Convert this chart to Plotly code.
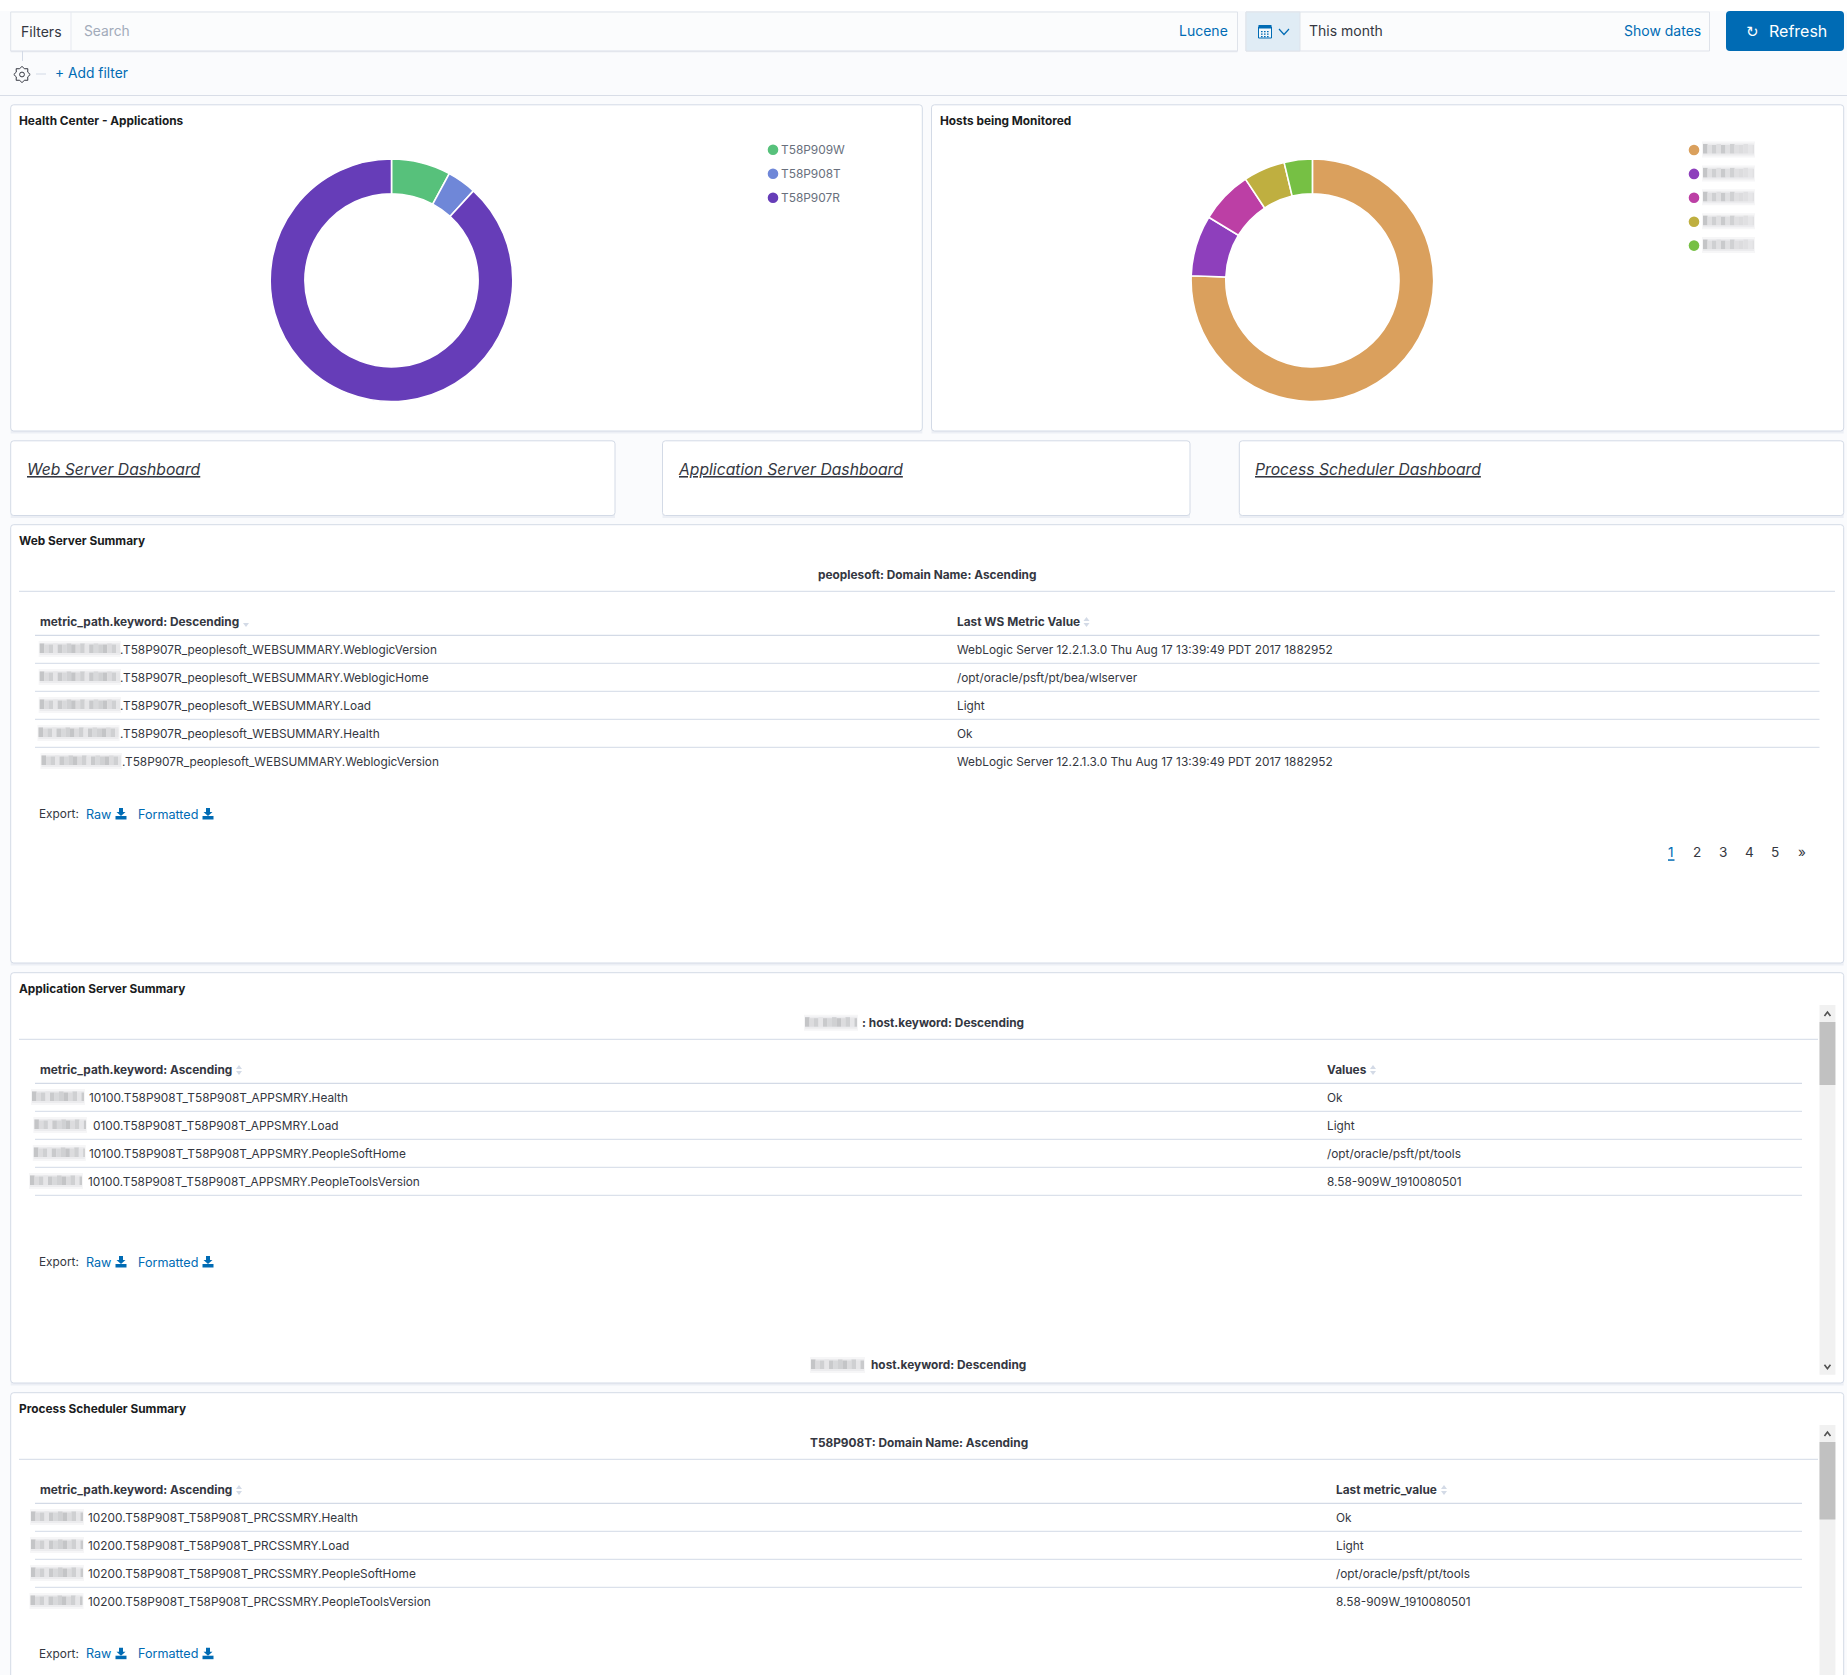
import math
import plotly.graph_objects as go

W, H = 1847, 1675

# donut data
app_labels = ["T58P909W", "T58P908T", "T58P907R"]
app_values = [7.9, 3.9, 88.2]
app_colors = ["#57c17b", "#6f87d8", "#663db8"]

host_labels = ["host a", "host b", "host c", "host d", "host e"]  # names are blurred in the picture
host_values = [75.6, 8.1, 7.0, 5.55, 3.75]
host_colors = ["#daa05d", "#8e3fbc", "#bc3fa5", "#bfaf40", "#76c044"]

# tables
web_paths = [".T58P907R_peoplesoft_WEBSUMMARY.WeblogicVersion",
             ".T58P907R_peoplesoft_WEBSUMMARY.WeblogicHome",
             ".T58P907R_peoplesoft_WEBSUMMARY.Load",
             ".T58P907R_peoplesoft_WEBSUMMARY.Health",
             ".T58P907R_peoplesoft_WEBSUMMARY.WeblogicVersion"]
web_values = ["WebLogic Server 12.2.1.3.0 Thu Aug 17 13:39:49 PDT 2017 1882952",
              "/opt/oracle/psft/pt/bea/wlserver",
              "Light",
              "Ok",
              "WebLogic Server 12.2.1.3.0 Thu Aug 17 13:39:49 PDT 2017 1882952"]
app_paths = ["10100.T58P908T_T58P908T_APPSMRY.Health",
             "0100.T58P908T_T58P908T_APPSMRY.Load",
             "10100.T58P908T_T58P908T_APPSMRY.PeopleSoftHome",
             "10100.T58P908T_T58P908T_APPSMRY.PeopleToolsVersion"]
app_vals = ["Ok", "Light", "/opt/oracle/psft/pt/tools", "8.58-909W_1910080501"]
prc_paths = ["10200.T58P908T_T58P908T_PRCSSMRY.Health",
             "10200.T58P908T_T58P908T_PRCSSMRY.Load",
             "10200.T58P908T_T58P908T_PRCSSMRY.PeopleSoftHome",
             "10200.T58P908T_T58P908T_PRCSSMRY.PeopleToolsVersion"]
prc_vals = ["Ok", "Light", "/opt/oracle/psft/pt/tools", "8.58-909W_1910080501"]
pages = ["1", "2", "3", "4", "5", "»"]

FONT = "Inter"
DARK = "#343741"
BLACK = "#1a1c21"
BLUE = "#006bb4"
GREY = "#69707d"
LINE = "#d3dae6"
BODY = 11.85

shapes = []
notes = []


def text(x, y, s, size=None, color=DARK, anchor="left", family=FONT):
    # body text sits a touch higher than its box centre
    dy = 0
    if size is None:
        size, dy = BODY, -0.2
    notes.append(dict(x=x, y=y + dy, xref="x", yref="y", text=s, showarrow=False, xanchor=anchor,
                      yanchor="middle", borderpad=0, borderwidth=0,
                      font=dict(family=family, size=size, color=color)))


def rect(x0, y0, x1, y1, fill=None, line=None, lw=1, layer="below"):
    shapes.append(dict(type="rect", xref="x", yref="y", x0=x0, y0=y0, x1=x1, y1=y1, layer=layer,
                       fillcolor=fill or "rgba(0,0,0,0)",
                       line=dict(color=line or "rgba(0,0,0,0)", width=lw if line else 0)))


def hline(x0, x1, y, color=LINE, lw=1):
    shapes.append(dict(type="line", xref="x", yref="y", x0=x0, x1=x1, y0=y, y1=y, layer="below",
                       line=dict(color=color, width=lw)))


def path(d, fill=None, line=None, lw=1, layer="below"):
    shapes.append(dict(type="path", xref="x", yref="y", path=d, layer=layer,
                       fillcolor=fill or "rgba(0,0,0,0)",
                       line=dict(color=line or "rgba(0,0,0,0)", width=lw if line else 0)))


def dot(x, y, r, color, line=None):
    shapes.append(dict(type="circle", xref="x", yref="y", x0=x - r, x1=x + r, y0=y - r, y1=y + r,
                       layer="below", fillcolor=color, line=dict(color=line or color, width=1 if line else 0)))


def card(x0, y0, x1, y1, r=3):
    d = (f"M{x0+r},{y0} L{x1-r},{y0} Q{x1},{y0} {x1},{y0+r} L{x1},{y1-r} Q{x1},{y1} {x1-r},{y1} "
         f"L{x0+r},{y1} Q{x0},{y1} {x0},{y1-r} L{x0},{y0+r} Q{x0},{y0} {x0+r},{y0} Z")
    rect(x0, y1 - 2, x1, y1 + 2.5, fill="#eceff5")
    path(d, fill="#ffffff", line=LINE)


SMEAR = ["#c4c5c7", "#dcdcde", "#cfd0d2", "#e6e6e8", "#c9cacc", "#d8d9db", "#d0d1d3"]


def blur(x0, x1, y, lighten=False):
    # hostnames are smeared out in the picture, so these stay grey blocks
    rect(x0 - 1, y - 8, x1 + 1, y + 8, fill="#f6f6f7")
    rect(x0, y - 6, x1, y + 6, fill="#ececee")
    k, x = 0, x0
    while x < x1:
        nx = min(x + 4.5, x1)
        top = 4.5 if k % 3 else 5.5
        rect(x, y - top, nx, y + 4, fill="#e0e0e2" if lighten and k % 2 else SMEAR[k % len(SMEAR)])
        x, k = nx, k + 1


def download(x, y):
    path(f"M{x+3.5},{y-6} L{x+7.5},{y-6} L{x+7.5},{y-2} L{x+10},{y-2} L{x+5.5},{y+2} L{x+1},{y-2} L{x+3.5},{y-2} Z", fill=BLUE)
    rect(x, y + 2, x + 11, y + 5.5, fill=BLUE)


def export(y):
    text(39, y, "Export:", size=11.85, color=DARK)
    text(86.3, y, "Raw", size=12.6, color=BLUE)
    download(115.5, y)
    text(137.6, y, "Formatted", size=12.6, color=BLUE)
    download(202.5, y)


def caret(x, y, up=True):
    if up:
        path(f"M{x},{y-1} L{x+3},{y-5} L{x+6},{y-1} Z", fill=LINE)
    path(f"M{x},{y+1} L{x+3},{y+5} L{x+6},{y+1} Z", fill=LINE)


def scrollbar(x0, x1, y0, y1, t0, t1, bottom_arrow=True):
    rect(x0, y0, x1, y1, fill="#f1f1f1")
    rect(x0, t0, x1, t1, fill="#c1c1c1")
    cx = (x0 + x1) / 2
    path(f"M{cx-3},{y0+11} L{cx},{y0+7} L{cx+3},{y0+11}", line="#505050", lw=1.6)
    if bottom_arrow:
        path(f"M{cx-3},{y1-10} L{cx},{y1-6} L{cx+3},{y1-10}", line="#505050", lw=1.6)


def table(y_header, y_first, paths, vals, xval, starts, blurs, x_right, closed=True):
    hline(35, x_right, y_header + 13.3, lw=1.2)
    for i, (p, v) in enumerate(zip(paths, vals)):
        y = y_first + 28 * i
        blur(blurs[i][0], blurs[i][1], y - 1)
        text(starts[i], y, p)
        text(xval, y, v)
        if i < len(paths) - 1 or closed:
            hline(35, x_right, y + 13.3)


# page chrome
rect(0, 0, W, H, fill="#fafbfd")
rect(0, 0, W, 11, fill="#ffffff")

rect(10.7, 12, 1237.5, 51, fill="#fbfcfd", line="#dfe3ea")
hline(10.7, 1237.5, 51.5, color="#e3e6ed", lw=1.5)
shapes.append(dict(type="line", xref="x", yref="y", x0=71, x1=71, y0=12, y1=51, layer="below", line=dict(color="#e6e9f0", width=1)))
text(21, 31.5, "Filters", size=14, color=DARK)
text(84, 31, "Search", size=13.8, color="#a2abba")
text(1228, 30.5, "Lucene", size=14, color=BLUE, anchor="right")

rect(1246, 12, 1709.5, 51, fill="#fbfcfd", line="#dfe3ea")
rect(1246, 12, 1300, 51, fill="#e0ecf5", line="#dfe3ea")
rect(1258.5, 27, 1271.5, 38, fill="#f2f7fb", line=BLUE, lw=1)
rect(1258.5, 25, 1271.5, 28.5, fill=BLUE)
for gx in (1261, 1264, 1267):
    for gy in (31, 33.5, 36):
        rect(gx, gy, gx + 1.6, gy + 1.3, fill=BLUE)
path("M1279,29 L1284,34.5 L1289,29", line=BLUE, lw=1.2)
text(1308.8, 30.5, "This month", size=14, color=DARK)
text(1700.5, 30.5, "Show dates", size=14, color=BLUE, anchor="right")

path("M1730,11 L1840,11 Q1844,11 1844,15 L1844,47 Q1844,51 1840,51 L1730,51 Q1726,51 1726,47 L1726,15 Q1726,11 1730,11 Z", fill=BLUE)
text(1752, 31.5, "↻", size=15, color="#ffffff", anchor="center", family="DejaVu Sans")
text(1768.5, 31, "Refresh", size=16, color="#ffffff")

shapes.append(dict(type="line", xref="x", yref="y", x0=22.5, x1=22.5, y0=51, y1=61, layer="below", line=dict(color="#d3dae6", width=1)))
hline(36, 46, 74, color="#d3dae6")
# gear outline
gear = []
for k in range(16):
    a = k * math.pi / 8
    rad = 8.2 if k % 2 == 0 else 6.2
    gear.append(f"{22 + rad * math.sin(a):.2f},{74.5 - rad * math.cos(a):.2f}")
path("M" + " L".join(gear) + " Z", line="#343741", lw=1)
dot(22, 74.5, 2.4, "rgba(0,0,0,0)", line="#343741")
text(55, 73, "+ Add filter", size=13.8, color=BLUE)
hline(0, W, 95.5, color="#d8dde7", lw=1.2)

# donut panels
card(10.7, 104.8, 922.3, 431)
card(931.5, 104.8, 1843.7, 431)
text(19, 121, "<b>Health Center - Applications</b>", color=BLACK)
text(940, 121, "<b>Hosts being Monitored</b>", color=BLACK)

for i, lab in enumerate(app_labels):
    dot(773, 149.8 + 24 * i, 5.3, app_colors[i])
    text(781, 149.8 + 24 * i, lab, size=11.9, color=GREY)
for i, c in enumerate(host_colors):
    y = 150 + 23.9 * i
    dot(1694, y, 5.3, c)
    blur(1703, 1754, y - 0.5, lighten=True)

# nav panels
card(10.7, 440.8, 615, 515.5)
card(662.5, 440.8, 1190, 515.5)
card(1239.3, 440.8, 1843.7, 515.5)
text(27.3, 469.7, "<i><u>Web Server Dashboard</u></i>", size=15.7, color=DARK)
text(678, 469.7, "<i><u>Application Server Dashboard</u></i>", size=15.7, color=DARK)
text(1255.3, 469.7, "<i><u>Process Scheduler Dashboard</u></i>", size=15.7, color=DARK)

# web server summary
card(10.7, 524.7, 1843.7, 963)
text(19, 541, "<b>Web Server Summary</b>", color=BLACK)
text(927, 575, "<b>peoplesoft: Domain Name: Ascending</b>", anchor="center")
hline(19, 1835, 591.3)
text(39.7, 622, "<b>metric_path.keyword: Descending</b>")
caret(243, 622, up=False)
text(956.7, 622, "<b>Last WS Metric Value</b>")
caret(1083.5, 622)
table(622, 650, web_paths, web_values, 956.7,
      [120.4, 120.4, 120.4, 119.6, 121.5],
      [(39.7, 120), (39.7, 120), (39.7, 120), (38.5, 118.5), (41.5, 121)],
      1819.5, closed=False)
export(814)
for i, p in enumerate(pages):
    text(1670.5 + 26.2 * i, 852, p, size=13.6, color=BLUE if i == 0 else DARK, anchor="center")
rect(1668, 859.3, 1674.5, 860.8, fill=BLUE)

# application server summary
card(10.7, 972.7, 1843.7, 1383)
text(19, 989, "<b>Application Server Summary</b>", color=BLACK)
blur(805, 857, 1022.7)
text(862, 1022.7, "<b>: host.keyword: Descending</b>")
hline(19, 1818, 1039.3)
text(39.7, 1070, "<b>metric_path.keyword: Ascending</b>")
caret(236, 1070)
text(1327.2, 1070, "<b>Values</b>")
caret(1370, 1070)
table(1070, 1098, app_paths, app_vals, 1327.2,
      [89, 93, 89, 87.8],
      [(32, 84), (34.4, 86), (33.8, 84.8), (30, 82)],
      1802)
export(1262)
blur(811, 864, 1365)
text(871, 1365, "<b>host.keyword: Descending</b>")
scrollbar(1819.5, 1835.4, 1005, 1374.7, 1022, 1085)

# process scheduler summary
card(10.7, 1392.7, 1843.7, H + 10)
text(19, 1409, "<b>Process Scheduler Summary</b>", color=BLACK)
text(810, 1442.7, "<b>T58P908T: Domain Name: Ascending</b>")
hline(19, 1818, 1459.3)
text(39.7, 1490, "<b>metric_path.keyword: Ascending</b>")
caret(236, 1490)
text(1336.3, 1490, "<b>Last metric_value</b>")
caret(1441, 1490)
table(1490, 1518, prc_paths, prc_vals, 1336.3,
      [87.8, 87.8, 87.8, 87.8],
      [(31, 83), (31, 83), (31, 83), (30.5, 82.5)],
      1802, closed=False)
export(1653.7)
scrollbar(1819.5, 1835.4, 1425, H, 1442, 1519.5, bottom_arrow=False)


def donut(labels, values, colors, cx, cy, r):
    return go.Pie(labels=labels, values=values, sort=False, direction="clockwise", rotation=0,
                  hole=0.714, textinfo="none", showlegend=False,
                  marker=dict(colors=colors, line=dict(color="#ffffff", width=1.6)),
                  domain=dict(x=[(cx - r) / W, (cx + r) / W], y=[1 - (cy + r) / H, 1 - (cy - r) / H]))


fig = go.Figure()
fig.add_trace(go.Scatter(x=[], y=[], hoverinfo="skip", showlegend=False))
fig.add_trace(donut(app_labels, app_values, app_colors, 391.5, 280.3, 121.3))
fig.add_trace(donut(host_labels, host_values, host_colors, 1312.4, 280.3, 121.3))

fig.update_layout(width=W, height=H, margin=dict(l=0, r=0, t=0, b=0), showlegend=False,
                  paper_bgcolor="#fafbfd", plot_bgcolor="#fafbfd",
                  xaxis=dict(range=[0, W], visible=False, fixedrange=True, domain=[0, 1]),
                  yaxis=dict(range=[H, 0], visible=False, fixedrange=True, domain=[0, 1]),
                  shapes=shapes, annotations=notes, font=dict(family=FONT))

fig.write_html("out.html", config=dict(displayModeBar=False),
               post_script="document.body.style.margin='0';document.body.style.overflow='hidden';")
